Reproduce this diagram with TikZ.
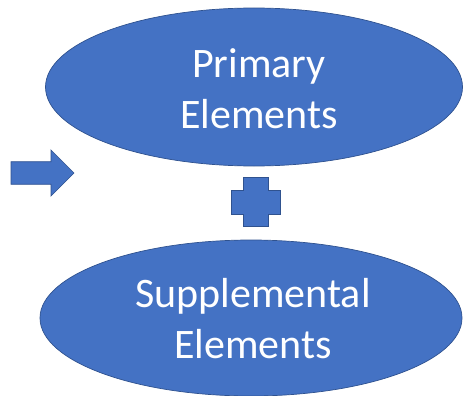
\documentclass[tikz,border=0pt]{standalone}
\usepackage{fontspec}
\setmainfont{Carlito}
\usetikzlibrary{shapes.geometric}
\definecolor{shapefill}{HTML}{4472C4}
\definecolor{shapeline}{HTML}{2F528F}
\begin{document}
\begin{tikzpicture}[x=1pt,y=-1pt,
  blob/.style={ellipse, fill=shapefill, draw=shapeline, line width=0.7pt,
    inner sep=0pt},
  caption/.style={text=white, align=center, inner sep=0pt,
    font=\fontsize{42}{51}\selectfont},
  glyph/.style={fill=shapefill, draw=shapeline, line width=0.7pt, line join=miter}]
\useasboundingbox (0,0) rectangle (463,396);
\clip (0,0) rectangle (463,396);

% the two ellipses and their labels
\node[blob, minimum width=417pt, minimum height=158pt] (primary) at (254,87) {};
\node[caption] (primarytext) at (259,89) {Primary\\Elements};
\node[blob, minimum width=422pt, minimum height=156pt] (supplemental) at (251,318) {};
\node[caption] (supplementaltext) at (253,319) {Supplemental\\Elements};

% block arrow on the left
\draw[glyph] (11,161.7) -- (51,161.7) -- (51,150) -- (74,173) -- (51,196)
  -- (51,184.3) -- (11,184.3) -- cycle;

% plus sign between the ellipses
\draw[glyph] (243.3,177.7) -- (268.7,177.7) -- (268.7,190) -- (280.3,190)
  -- (280.3,214.3) -- (268.7,214.3) -- (268.7,226.7) -- (243.3,226.7)
  -- (243.3,214.3) -- (231.7,214.3) -- (231.7,190) -- (243.3,190) -- cycle;
\end{tikzpicture}
\end{document}
